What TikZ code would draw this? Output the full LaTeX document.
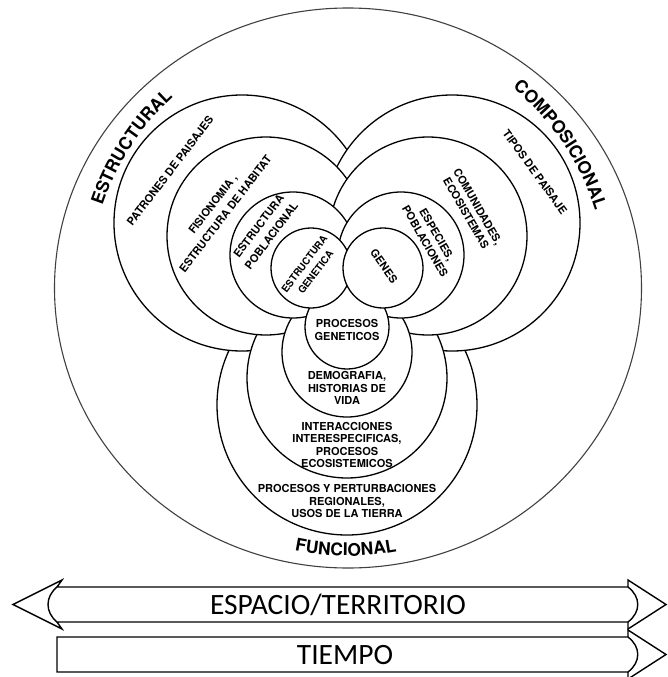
\documentclass[tikz,border=0pt]{standalone}
\usepackage{fontspec}
\setmainfont{TeX Gyre Heros}
\newfontfamily\bandfont{Carlito}
\usetikzlibrary{decorations.text}

\begin{document}
\begin{tikzpicture}[x=1pt,y=-1pt,
  ring/.style={draw=black,line width=1.3pt,fill=white},
  lbl/.style={font=\bfseries\fontsize{11}{13.5}\selectfont,align=center,inner sep=0pt},
  slbl/.style={lbl,font=\bfseries\fontsize{11}{16}\selectfont},
  flbl/.style={lbl,font=\bfseries\fontsize{11}{12.5}\selectfont},
  band/.style={draw=black,line width=1.4pt,line join=miter},
  title/.style={decorate,decoration={text along path,text align=center,
    text={|\bfseries\fontsize{17.5}{17.5}\selectfont|#1}}}]
\useasboundingbox (0,0) rectangle (667,677);
\coordinate (O) at (348,288);
\draw[line width=1.1pt,draw=black!75] (O) ellipse[x radius=293.5,y radius=280];
% rings, largest first, functional / structural / compositional
\foreach \cx/\cy/\r in {347/405/130, 242/223/128, 452/223/128,
                        347/378/100, 266/236/99,  428/236/99,
                        347/352/65,  293/255/63,  401/255/63,
                        347/327/42,  311/268/40,  383/268/40}
  \filldraw[ring] (\cx,\cy) circle[radius=\r];

\path[title=ESTRUCTURAL] (O) ++(194:259) arc[start angle=194,end angle=232,radius=259];
\path[title=COMPOSICIONAL] (O) ++(306:259) arc[start angle=306,end angle=346,radius=259];
\path[title=FUNCIONAL] (O) ++(112:268) arc[start angle=112,end angle=69,radius=268];

\node[lbl,rotate=52.5] (patrones) at (170,171) {PATRONES DE PAISAJES};
\node[slbl,rotate=52.5] (fisionomia) at (219,209) {FISIONOMIA ,\\ESTRUCTURA DE HABITAT};
\node[slbl,rotate=53] (poblacional) at (265,231) {ESTRUCTURA\\POBLACIONAL};
\node[slbl,font=\bfseries\fontsize{10}{14}\selectfont,rotate=53] (genetica) at (310,268) {ESTRUCTURA\\GENETICA};

\node[lbl,rotate=-54] (tipos) at (535,172) {TIPOS DE PAISAJE};
\node[lbl,rotate=-60] (comunidades) at (472,210) {COMUNIDADES,\\ECOSISTEMAS};
\node[lbl,rotate=-60] (especies) at (431,238) {ESPECIES,\\POBLACIONES};
\node[lbl,rotate=-55] (genes) at (384,266) {GENES};

\node[flbl] (procgen) at (347,330) {PROCESOS\\GENETICOS};
\node[flbl] (demografia) at (347,388) {DEMOGRAFIA,\\HISTORIAS DE\\VIDA};
\node[flbl] (interacciones) at (347,445) {INTERACCIONES\\INTERESPECIFICAS,\\PROCESOS\\ECOSISTEMICOS};
\node[flbl] (regionales) at (347,501) {PROCESOS Y PERTURBACIONES\\REGIONALES,\\USOS DE LA TIERRA};

% scale arrows
\draw[band] (57,587) -- (628,587) -- (628,580) -- (666,604.5) -- (628,629) -- (628,622)
  -- (57,622) -- (62,629) -- (13,604.5) -- (62,580) -- cycle;
\draw[band] (57,587) .. controls (45,597) and (45,612) .. (57,622);
\draw[band] (628,587) .. controls (641,597) and (641,612) .. (628,622);
\node[font=\bandfont\fontsize{29.5}{29.5}\selectfont] (espacio) at (338,605) {ESPACIO/TERRITORIO};

\draw[band] (628,637) -- (57,637) -- (57,672) -- (628,672) -- (628,679) -- (666,654.5)
  -- (628,630) -- cycle;
\draw[band] (628,637) .. controls (641,647) and (641,662) .. (628,672);
\node[font=\bandfont\fontsize{29.5}{29.5}\selectfont] (tiempo) at (345,655) {TIEMPO};
\end{tikzpicture}
\end{document}
